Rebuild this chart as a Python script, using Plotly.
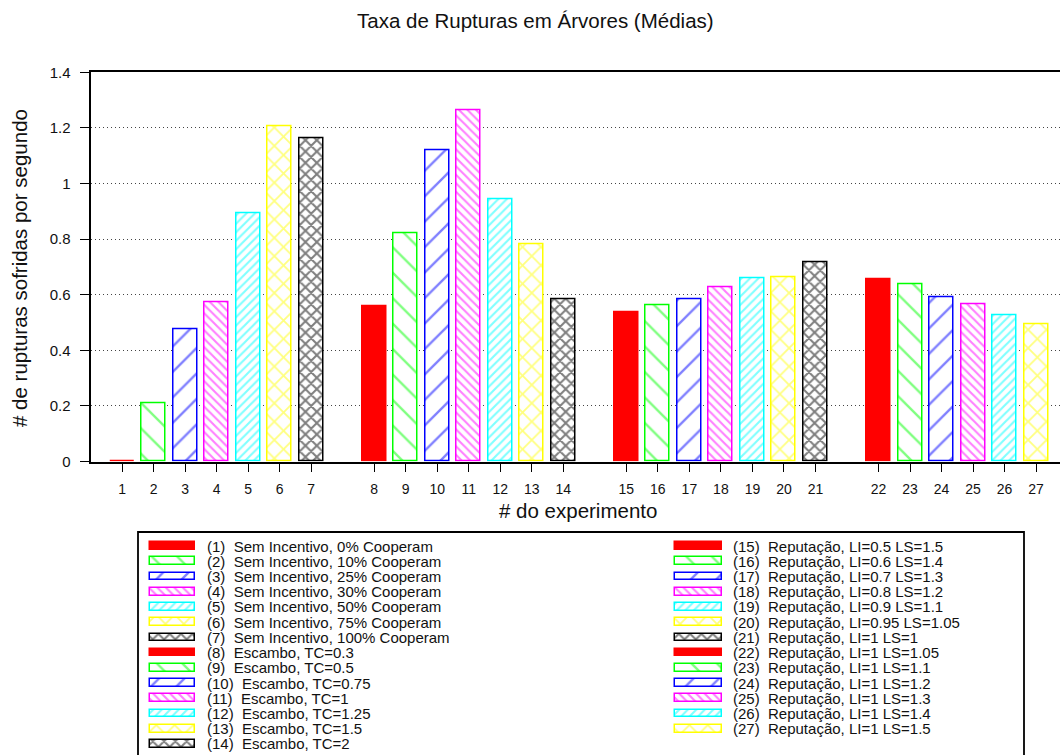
import plotly.graph_objects as go

# ---------------------------------------------------------------- data
experiments = list(range(1, 28))

rates = [
    0.002, 0.210, 0.476, 0.573, 0.893, 1.207, 1.161,   # Sem Incentivo
    0.557, 0.820, 1.118, 1.264, 0.943, 0.782, 0.584,   # Escambo
    0.538, 0.562, 0.584, 0.626, 0.659, 0.662, 0.715,   # Reputação (LI varia)
    0.657, 0.638, 0.592, 0.564, 0.526, 0.493,          # Reputação (LS varia)
]

sem_incentivo = ["0%", "10%", "25%", "30%", "50%", "75%", "100%"]
escambo_tc = ["0.3", "0.5", "0.75", "1", "1.25", "1.5", "2"]
reputacao_li_ls = [
    ("0.5", "1.5"), ("0.6", "1.4"), ("0.7", "1.3"), ("0.8", "1.2"),
    ("0.9", "1.1"), ("0.95", "1.05"), ("1", "1"), ("1", "1.05"),
    ("1", "1.1"), ("1", "1.2"), ("1", "1.3"), ("1", "1.4"), ("1", "1.5"),
]

y_ticks = [0, 0.2, 0.4, 0.6, 0.8, 1.0, 1.2, 1.4]
y_tick_text = ["0", "0.2", "0.4", "0.6", "0.8", "1", "1.2", "1.4"]

descriptions = (
    [f"Sem Incentivo, {p} Cooperam" for p in sem_incentivo]
    + [f"Escambo, TC={tc}" for tc in escambo_tc]
    + [f"Reputação, LI={li} LS={ls}" for li, ls in reputacao_li_ls]
)

# ---------------------------------------------------------------- styles
# one fill style per position inside a group of seven experiments
styles = [
    dict(color="#ff0000", shape=None, size=0, solidity=0),
    dict(color="#00ff00", shape="\\", size=18, solidity=0.13),
    dict(color="#0000ff", shape="/", size=18, solidity=0.13),
    dict(color="#ff00ff", shape="\\", size=6, solidity=0.35),
    dict(color="#00ffff", shape="/", size=6, solidity=0.35),
    dict(color="#ffff00", shape="x", size=13, solidity=0.26),
    dict(color="#000000", shape="x", size=8, solidity=0.45),
]
GROUP = 7


def marker_for(st):
    if st["shape"] is None:
        return dict(color=st["color"], line=dict(color=st["color"], width=1.5))
    return dict(
        color="white",
        line=dict(color=st["color"], width=1.5),
        pattern=dict(shape=st["shape"], fgcolor=st["color"], bgcolor="white",
                     size=st["size"], solidity=st["solidity"], fillmode="overlay"),
    )


# ---------------------------------------------------------------- geometry
W, H = 1060, 755
FONT = "Liberation Sans, Arial, Helvetica, sans-serif"


def fx(p):
    return p / W


def fy(p):
    return 1 - p / H


# slot on the x axis: one empty slot between groups
slots = [n + (n - 1) // GROUP for n in experiments]

plot_left, plot_top, plot_bottom = 90.5, 72.3, 461.5
slot_px = 31.52
x_max = (W - plot_left) / slot_px

# legend panel (drawn on its own axes, in pixel units horizontally, rows vertically)
leg_top, row0, row_h = 532, 546, 15.23
col_swatch = [(150, 45), (675, 47)]
col_text = [205, 731]
rows_per_col = 14

fig = go.Figure()

for k, st in enumerate(styles):
    idx = [i for i in range(len(experiments)) if i % GROUP == k]
    fig.add_trace(go.Bar(
        x=[slots[i] for i in idx],
        y=[rates[i] for i in idx],
        width=0.76,
        marker=marker_for(st),
        showlegend=False,
        xaxis="x", yaxis="y",
    ))
    # legend swatches for the same style
    cols = [i // rows_per_col for i in idx]
    rows = [i % rows_per_col if i < rows_per_col else i - rows_per_col for i in idx]
    fig.add_trace(go.Bar(
        orientation="h",
        y=rows,
        x=[col_swatch[c][1] for c in cols],
        base=[col_swatch[c][0] for c in cols],
        width=0.5,
        marker=marker_for(st),
        showlegend=False,
        hoverinfo="skip",
        xaxis="x2", yaxis="y2",
    ))

annotations = []
for i, (n, d) in enumerate(zip(experiments, descriptions)):
    c = i // rows_per_col
    r = i % rows_per_col if i < rows_per_col else i - rows_per_col
    annotations.append(dict(
        x=col_text[c], y=r, xref="x2", yref="y2",
        text=f"({n})\u00a0\u00a0{d}", showarrow=False,
        xanchor="left", yanchor="middle",
        font=dict(family=FONT, size=15, color="#111"),
    ))

annotations += [
    dict(x=fx(535), y=fy(20), xref="paper", yref="paper",
         text="Taxa de Rupturas em Árvores (Médias)", showarrow=False,
         xanchor="center", yanchor="middle",
         font=dict(family=FONT, size=20.5, color="#111")),
    dict(x=fx(578), y=fy(510), xref="paper", yref="paper",
         text="# do experimento", showarrow=False,
         xanchor="center", yanchor="middle",
         font=dict(family=FONT, size=20.5, color="#111")),
    dict(x=fx(20), y=fy(268), xref="paper", yref="paper",
         text="# de rupturas sofridas por segundo", showarrow=False,
         textangle=-90, xanchor="center", yanchor="middle",
         font=dict(family=FONT, size=20.5, color="#111")),
]

fig.update_layout(
    template="none",
    width=W, height=H,
    margin=dict(l=0, r=0, t=0, b=0),
    paper_bgcolor="white", plot_bgcolor="white",
    barmode="overlay",
    bargap=0,
    showlegend=False,
    annotations=annotations,
    shapes=[dict(type="rect", xref="paper", yref="paper",
                 x0=fx(138), x1=fx(1024), y0=-0.05, y1=fy(leg_top),
                 line=dict(color="black", width=1.8), fillcolor="rgba(0,0,0,0)")],
    xaxis=dict(
        domain=[fx(plot_left), 1], range=[0, x_max], automargin=False,
        tickmode="array", tickvals=slots, ticktext=[str(n) for n in experiments],
        ticks="outside", ticklen=8, tickwidth=1.3, tickcolor="black",
        showline=True, linecolor="black", linewidth=2, mirror=True,
        showgrid=False, zeroline=False,
        tickfont=dict(family=FONT, size=14, color="#111"),
        ticklabelstandoff=6, fixedrange=True,
    ),
    yaxis=dict(
        domain=[fy(plot_bottom), fy(plot_top)], range=[0, 1.4], automargin=False,
        tickmode="array", tickvals=y_ticks, ticktext=y_tick_text,
        ticks="outside", ticklen=9, tickwidth=1.3, tickcolor="black",
        showline=True, linecolor="black", linewidth=2, mirror=False,
        showgrid=True, gridcolor="#444", gridwidth=1, griddash="1px,3px",
        zeroline=False,
        tickfont=dict(family=FONT, size=15, color="#111"),
        ticklabelstandoff=6, fixedrange=True,
    ),
    xaxis2=dict(domain=[0, 1], range=[0, W], visible=False, fixedrange=True,
                anchor="y2"),
    yaxis2=dict(domain=[0, fy(leg_top)],
                range=[(H - row0) / row_h, (leg_top - row0) / row_h],
                visible=False, fixedrange=True, anchor="x2"),
)

fig.write_html("out.html")
